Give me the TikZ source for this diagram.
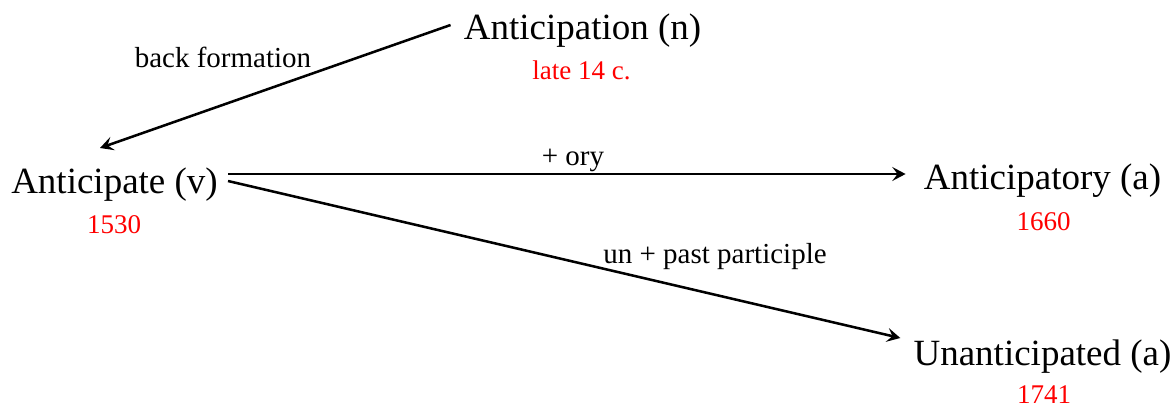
\documentclass[tikz,border=0pt]{standalone}
\usepackage{fontspec}
\setmainfont{Liberation Serif}
\usetikzlibrary{arrows.meta}
\tikzset{
  word/.style={inner sep=0pt, anchor=base, font=\fontsize{27.75pt}{30pt}\selectfont},
  date/.style={inner sep=0pt, anchor=base, text={rgb,255:red,255;green,0;blue,0}, font=\fontsize{20.25pt}{22pt}\selectfont},
  lbl/.style={inner sep=0pt, anchor=base, font=\fontsize{21.75pt}{24pt}\selectfont},
  arr/.style={line width=1.9pt, -{Stealth[length=10pt,width=10.5pt,inset=4pt]}}
}
\begin{document}
\begin{tikzpicture}[x=0.75pt,y=-0.75pt]
\useasboundingbox (0,0) rectangle (1176,408);
% words
\node[word] (an) at (582.5,39) {Anticipation (n)};
\node[date] (dn) at (581.5,79) {late 14 c.};
\node[word] (av) at (114.5,193) {Anticipate (v)};
\node[date] (dv) at (114,233) {1530};
\node[word] (ap) at (1042.5,189) {Anticipatory (a)};
\node[date] (dp) at (1043.5,230) {1660};
\node[word] (au) at (1042.5,365) {Unanticipated (a)};
\node[date] (du) at (1044,403) {1741};
% labels
\node[lbl] (l1) at (223,67) {back formation};
\node[lbl] (l2) at (573,165) {+ ory};
\node[lbl] (l3) at (715,263) {un + past participle};
% connectors
\draw[arr] ([shift={(-13,-14)}]an.base west) -- ([shift={(-14.5,-45)}]av.base);
\draw[arr] ([shift={(10,-19)}]av.base east) -- ([shift={(-18,-15)}]ap.base west);
\draw[arr] ([shift={(10,-12)}]av.base east) -- ([shift={(-13,-27)}]au.base west);
\end{tikzpicture}
\end{document}
